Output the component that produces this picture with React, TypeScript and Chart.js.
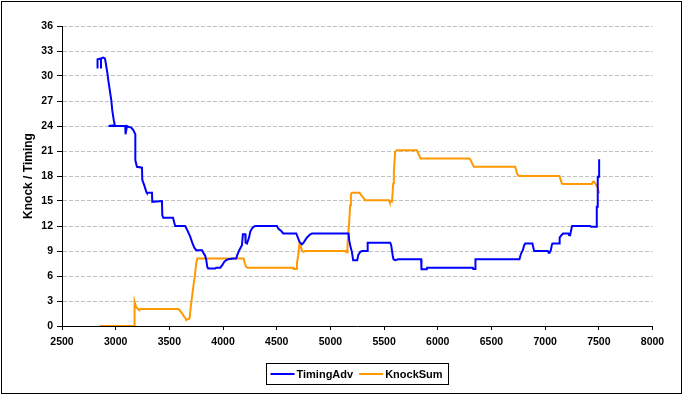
import React, { useEffect, useRef } from 'react';
import { Chart, registerables } from 'chart.js';

Chart.register(...registerables);

// ---- Data ----
const timingRpm = [
  2831, 2831, 2863, 2863, 2863, 2885, 2899, 2903, 2912, 2922, 2931, 2945, 2959, 2968, 2982, 2992,
  2934, 3089, 3092, 3105, 3120, 3145, 3164, 3183, 3183, 3198, 3245, 3248, 3266, 3285, 3290, 3338,
  3341, 3431, 3434, 3443, 3534, 3546, 3555, 3648, 3667, 3695, 3713, 3732, 3750, 3804, 3816, 3834,
  3844, 3853, 3862, 3927, 3937, 3974, 3993, 4011, 4030, 4048, 4095, 4123, 4132, 4151, 4176, 4185,
  4207, 4210, 4223, 4244, 4253, 4269, 4284, 4300, 4502, 4514, 4542, 4561, 4682, 4712, 4719, 4735,
  4750, 4765, 4781, 4796, 4812, 4828, 5169, 5175, 5184, 5200, 5212, 5250, 5259, 5278, 5296, 5345,
  5347, 5557, 5566, 5582, 5588, 5603, 5631, 5845, 5848, 5898, 5901, 6327, 6330, 6348, 6351, 6761,
  6767, 6776, 6792, 6805, 6814, 6882, 6888, 6898, 7025, 7033, 7042, 7053, 7062, 7068, 7133, 7135,
  7152, 7168, 7217, 7224, 7233, 7242, 7251, 7419, 7428, 7481, 7481, 7490, 7490, 7503, 7503,
];
const timingAdv = [
  30.9, 32.0, 32.1, 30.9, 32.1, 32.2, 32.1, 31.9, 31.2, 30.4, 29.5, 28.3, 27.1, 25.9, 24.7, 24.1,
  24.0, 24.0, 23.0, 24.0, 23.9, 23.8, 23.5, 23.0, 19.9, 19.1, 19.0, 17.5, 16.9, 16.1, 16.0, 16.0,
  14.9, 15.0, 13.3, 13.0, 13.0, 12.4, 12.0, 12.0, 11.5, 10.7, 10.0, 9.4, 9.1, 9.1, 8.8, 8.4,
  7.9, 7.1, 6.9, 6.9, 7.0, 7.0, 7.3, 7.7, 7.9, 8.0, 8.1, 8.1, 8.5, 9.1, 9.7, 11.0,
  11.0, 10.0, 9.9, 10.7, 11.3, 11.7, 11.9, 12.0, 12.0, 11.7, 11.4, 11.1, 11.1, 10.1, 10.0, 9.8,
  10.0, 10.3, 10.6, 10.8, 11.0, 11.1, 11.1, 10.3, 9.7, 8.9, 7.9, 7.9, 8.5, 8.9, 9.0, 9.0,
  10.0, 10.0, 9.7, 8.3, 8.0, 7.9, 8.0, 8.0, 6.8, 6.8, 7.0, 7.0, 6.85, 6.85, 8.0, 8.0,
  8.3, 8.7, 9.1, 9.7, 9.9, 9.9, 9.5, 9.0, 9.0, 8.8, 8.8, 9.1, 9.7, 9.9, 9.9, 10.6,
  10.9, 11.1, 11.1, 10.9, 10.9, 11.5, 12.0, 12.0, 11.9, 11.9, 14.3, 14.3, 17.9, 17.9, 20.0,
];
const knockRpm = [
  2850, 3176, 3176, 3189, 3204, 3220, 3229, 3586, 3601, 3620, 3639, 3651, 3657, 3676, 3688, 3701,
  3713, 3725, 3738, 3750, 3760, 4191, 4204, 4216, 4228, 4656, 4658, 4682, 4688, 4700, 4712, 4725,
  4737, 4750, 4765, 5144, 5147, 5156, 5159, 5166, 5175, 5184, 5191, 5200, 5271, 5287, 5305, 5324,
  5547, 5552, 5573, 5578, 5585, 5591, 5597, 5603, 5619, 5805, 5818, 5827, 5839, 6295, 6308, 6320,
  6336, 6721, 6730, 6739, 6755, 7133, 7146, 7156, 7168, 7436, 7445, 7457, 7476, 7490, 7503,
];
const knockSum = [
  0, 0, 2.9, 2.3, 2.1, 1.9, 2.04, 2.04, 1.8, 1.5, 1.1, 0.9, 0.7, 0.84, 0.9, 2.5,
  3.7, 4.9, 6.1, 7.5, 8.1, 8.1, 7.5, 7.1, 7.0, 7.0, 6.85, 6.85, 7.5, 8.5, 9.9, 9.5,
  9.0, 8.9, 9.0, 9.0, 8.85, 8.85, 9.6, 11.1, 12.5, 14.5, 15.8, 16.0, 16.0, 15.7, 15.4, 15.1,
  15.1, 14.9, 14.9, 15.7, 17.1, 18.5, 19.7, 20.9, 21.1, 21.1, 20.7, 20.5, 20.1, 20.1, 19.9, 19.5,
  19.1, 19.1, 18.7, 18.3, 18.0, 18.0, 17.5, 17.1, 17.05, 17.05, 17.3, 17.3, 16.9, 16.6, 15.9,
];
const seriesNames = ['TimingAdv', 'KnockSum'];
const seriesColors = ['#0000FF', '#FF9900'];
const xMin = 2500;
const xMax = 8000;
const xStep = 500;
const yMin = 0;
const yMax = 36;
const yStep = 3;
const yTitle = 'Knock / Timing';

const FONT = '"Liberation Sans", Arial, Helvetica, sans-serif';

const framePlugin = {
  id: 'frameAndLegend',
  beforeDraw(chart: any) {
    const ctx = chart.ctx;
    ctx.save();
    ctx.fillStyle = '#ffffff';
    ctx.fillRect(0, 0, chart.width, chart.height);
    ctx.restore();
  },
  afterDraw(chart: any) {
    const ctx = chart.ctx;
    ctx.save();
    ctx.strokeStyle = '#000000';
    ctx.lineWidth = 1;
    ctx.strokeRect(1.5, 1.5, chart.width - 3, chart.height - 3);

    // legend box
    const ds = chart.data.datasets;
    ctx.font = `bold 11px ${FONT}`;
    const lineLen = 24, gapText = 2, gapItem = 6, padL = 4, padR = 6;
    const widths = ds.map((d: any) => ctx.measureText(d.label).width);
    let total = padL + padR;
    widths.forEach((w: number, i: number) => {
      total += lineLen + gapText + w + (i > 0 ? gapItem : 0);
    });
    const ca = chart.chartArea;
    const cx = (ca.left + ca.right) / 2;
    const left = Math.round(cx - total / 2) + 0.5;
    const top = chart.height - 31.5;
    const h = 21;
    ctx.strokeStyle = '#000000';
    ctx.lineWidth = 1;
    ctx.strokeRect(left, top, Math.round(total), h);
    let x = left + padL;
    const y = top + h / 2;
    ds.forEach((d: any, i: number) => {
      if (i > 0) x += gapItem;
      ctx.strokeStyle = d.borderColor;
      ctx.lineWidth = 2;
      ctx.beginPath();
      ctx.moveTo(x, y);
      ctx.lineTo(x + lineLen, y);
      ctx.stroke();
      x += lineLen + gapText;
      ctx.fillStyle = '#000000';
      ctx.textBaseline = 'middle';
      ctx.textAlign = 'left';
      ctx.fillText(d.label, x, y + 0.5);
      x += widths[i];
    });
    ctx.restore();
  },
};

export default function App() {
  const canvasRef = useRef<HTMLCanvasElement | null>(null);

  useEffect(() => {
    const canvas = canvasRef.current;
    if (!canvas) return;
    const tickFont = { family: FONT, size: 10.5, weight: 'bold' as const };
    const chart = new Chart(canvas, {
      type: 'line',
      data: {
        datasets: [
          {
            label: seriesNames[0],
            data: timingRpm.map((r, i) => ({ x: r, y: timingAdv[i] })),
            borderColor: seriesColors[0],
            backgroundColor: seriesColors[0],
            borderWidth: 2,
            pointRadius: 0,
            tension: 0,
            fill: false,
          },
          {
            label: seriesNames[1],
            data: knockRpm.map((r, i) => ({ x: r, y: knockSum[i] })),
            borderColor: seriesColors[1],
            backgroundColor: seriesColors[1],
            borderWidth: 2,
            pointRadius: 0,
            tension: 0,
            fill: false,
          },
        ],
      },
      options: {
        responsive: false,
        animation: false,
        devicePixelRatio: 1,
        layout: { padding: { left: 0, right: 30.5, top: 26, bottom: 0 } },
        plugins: {
          legend: { display: false },
          tooltip: { enabled: false },
          title: { display: false },
        },
        scales: {
          x: {
            type: 'linear',
            min: xMin,
            max: xMax,
            ticks: {
              stepSize: xStep,
              color: '#000000',
              font: tickFont,
              padding: 6,
              maxRotation: 0,
              autoSkip: false,
              callback: (v: any) => String(v),
            },
            grid: {
              drawOnChartArea: false,
              drawTicks: true,
              tickLength: 4,
              tickColor: '#000000',
              tickWidth: 1,
            },
            border: { display: true, color: '#000000', width: 1 },
            afterFit: (s: any) => {
              s.height = 69;
            },
          },
          y: {
            type: 'linear',
            min: yMin,
            max: yMax,
            ticks: {
              stepSize: yStep,
              color: '#000000',
              font: tickFont,
              padding: 4,
            },
            grid: {
              color: (c: any) => (c.tick && c.tick.value === 0 ? 'rgba(0,0,0,0)' : '#C0C0C0'),
              lineWidth: 1,
              drawTicks: true,
              tickLength: 5,
              tickColor: '#000000',
              tickWidth: 1,
              tickBorderDash: [],
            },
            border: { display: true, color: '#000000', width: 1, dash: [4, 2] },
            title: {
              display: true,
              text: yTitle,
              color: '#000000',
              font: { family: FONT, size: 12, weight: 'bold' },
              padding: { top: 21, bottom: 0 },
            },
            afterFit: (s: any) => {
              s.width = 62;
            },
          },
        },
      } as any,
      plugins: [framePlugin],
    });
    return () => {
      chart.destroy();
    };
  }, []);

  return (
    <div
      style={{
        position: 'absolute',
        left: 0,
        top: 0,
        width: 683,
        height: 395,
        overflow: 'hidden',
        background: '#ffffff',
      }}
    >
      <canvas ref={canvasRef} width={683} height={395} style={{ display: 'block' }} />
    </div>
  );
}
